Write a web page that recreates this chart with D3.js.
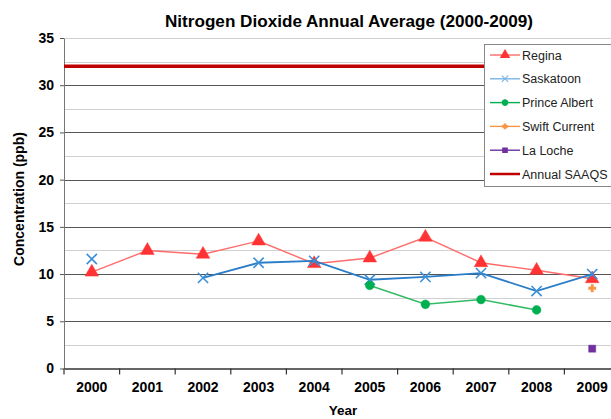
<!DOCTYPE html>
<html>
<head>
<meta charset="utf-8">
<script src="https://cdn.jsdelivr.net/npm/d3@7"></script>
<style>
  body { margin: 0; background: #fff; }
  svg { display: block; font-family: "Liberation Sans", Arial, sans-serif; }
</style>
</head>
<body>
<svg id="chart" width="611" height="419"></svg>
<script>
// data
var years = ['2000','2001','2002','2003','2004','2005','2006','2007','2008','2009'];
var regina = [10.2, 12.5, 12.1, 13.5, 11.1, 11.7, 13.9, 11.2, 10.4, 9.5];
var saskatoon = [11.6, null, 9.6, 11.2, 11.4, 9.4, 9.7, 10.1, 8.2, 10.0];
var princeAlbert = [null, null, null, null, null, 8.8, 6.8, 7.3, 6.2, null];
var swiftCurrent = [null, null, null, null, null, null, null, null, null, 8.5];
var laLoche = [null, null, null, null, null, null, null, null, null, 2.1];
var saaqs = 32;
var yTicks = [0, 5, 10, 15, 20, 25, 30, 35];

var svg = d3.select('#chart');
var plotLeft = 64, plotRight = 620, plotTop = 38, plotBottom = 368.5;
var fontStack = '"Liberation Sans", Arial, sans-serif';

var x = d3.scaleBand().domain(years).range([plotLeft, plotRight]);
var y = d3.scaleLinear().domain([0, 35]).range([plotBottom, plotTop]);

// gridlines: minor every 2.5, major every 5
var grid = svg.append('g');
d3.range(2.5, 35, 5).forEach(function(v){
  grid.append('line').attr('x1', plotLeft).attr('x2', plotRight)
    .attr('y1', Math.round(y(v)) + 0.5).attr('y2', Math.round(y(v)) + 0.5)
    .attr('stroke', '#d0d0d0').attr('stroke-width', 1);
});
yTicks.forEach(function(v){
  if (v === 0) return;
  grid.append('line').attr('x1', plotLeft).attr('x2', plotRight)
    .attr('y1', Math.round(y(v)) + 0.5).attr('y2', Math.round(y(v)) + 0.5)
    .attr('stroke', v === 35 ? '#d0d0d0' : '#555').attr('stroke-width', 1);
});

// y axis
var yAxis = svg.append('g').attr('transform', 'translate(' + plotLeft + ',0)')
  .call(d3.axisLeft(y).tickValues(yTicks).tickSize(4).tickSizeOuter(0));
yAxis.select('.domain').attr('stroke', '#777');
yAxis.selectAll('.tick line').attr('stroke', '#555');
yAxis.selectAll('.tick text').attr('font-size', 14).attr('font-weight', 'bold')
  .attr('fill', '#000').attr('x', -10).attr('font-family', fontStack);

// x axis
var xAxis = svg.append('g').attr('transform', 'translate(0,' + plotBottom + ')')
  .call(d3.axisBottom(x).tickSize(0).tickSizeOuter(0));
xAxis.select('.domain').attr('stroke', '#333').attr('stroke-width', 1.5);
xAxis.selectAll('.tick text').attr('font-size', 14).attr('font-weight', 'bold')
  .attr('fill', '#000').attr('y', 14).attr('font-family', fontStack);
years.concat(['end']).forEach(function(d, i){
  var px = i < years.length ? x(d) : plotRight;
  xAxis.append('line').attr('x1', px).attr('x2', px).attr('y1', 0).attr('y2', 6)
    .attr('stroke', '#333').attr('stroke-width', 1.2);
});

// SAAQS line
svg.append('line').attr('x1', plotLeft).attr('x2', plotRight)
  .attr('y1', y(saaqs)).attr('y2', y(saaqs))
  .attr('stroke', '#c00000').attr('stroke-width', 3.5);

var cx = function(i){ return x(years[i]) + x.bandwidth() / 2; };

var series = [
  {name: 'Regina', values: regina, line: '#ff6b6b', width: 1.4, mark: '#ff3333', symbol: d3.symbolTriangle, size: 80, fill: true},
  {name: 'Saskatoon', values: saskatoon, line: '#2a7dc8', width: 1.8, mark: '#3b8fd8', symbol: d3.symbolX, size: 70, fill: false},
  {name: 'Prince Albert', values: princeAlbert, line: '#33bb66', width: 1.6, mark: '#00b050', symbol: d3.symbolCircle, size: 60, fill: true},
  {name: 'Swift Current', values: swiftCurrent, line: '#f79646', width: 1.6, mark: '#f79646', symbol: d3.symbolCross, size: 30, fill: true},
  {name: 'La Loche', values: laLoche, line: '#7030a0', width: 1.6, mark: '#7030a0', symbol: d3.symbolSquare, size: 50, fill: true}
];

var line = d3.line()
  .defined(function(d){ return d != null; })
  .x(function(d, i){ return cx(i); })
  .y(function(d){ return y(d); });

series.forEach(function(s){
  svg.append('path').datum(s.values)
    .attr('d', line).attr('fill', 'none')
    .attr('stroke', s.line).attr('stroke-width', s.width);
  s.values.forEach(function(v, i){
    if (v == null) return;
    svg.append('path')
      .attr('d', d3.symbol(s.symbol, s.size)())
      .attr('transform', 'translate(' + cx(i) + ',' + y(v) + ')')
      .attr('fill', s.fill ? s.mark : 'none')
      .attr('stroke', s.mark).attr('stroke-width', s.fill ? 0.5 : 1.6);
  });
});

// legend
var lg = svg.append('g').attr('transform', 'translate(484,44)');
lg.append('rect').attr('x', 0.5).attr('y', 0.5).attr('width', 140).attr('height', 142)
  .attr('fill', '#fff').attr('stroke', '#888');
var legendItems = series.map(function(s){ return s; })
  .concat([{name: 'Annual SAAQS', line: '#c00000', saaqs: true}]);
var legendLine = {Regina: '#ff6b6b', Saskatoon: '#7ab4e6', 'Prince Albert': '#00b050',
  'Swift Current': '#f79646', 'La Loche': '#7030a0', 'Annual SAAQS': '#c00000'};
legendItems.forEach(function(s, i){
  var ly = 11 + i * 23.8;
  lg.append('line').attr('x1', 6).attr('x2', 36).attr('y1', ly).attr('y2', ly)
    .attr('stroke', legendLine[s.name]).attr('stroke-width', s.saaqs ? 2.5 : 1.4);
  if (!s.saaqs) {
    lg.append('path')
      .attr('d', d3.symbol(s.symbol, s.size * 0.4)())
      .attr('transform', 'translate(21,' + ly + ')')
      .attr('fill', s.fill ? s.mark : 'none')
      .attr('stroke', s.fill ? s.mark : legendLine[s.name]).attr('stroke-width', 1.1);
  }
  lg.append('text').attr('x', 38).attr('y', ly + 4.5)
    .attr('font-size', 12.5).attr('fill', '#222').text(s.name);
});

// titles
svg.append('text').attr('x', 349).attr('y', 27).attr('text-anchor', 'middle')
  .attr('font-size', 16).attr('font-weight', 'bold')
  .attr('textLength', 368).attr('lengthAdjust', 'spacingAndGlyphs')
  .text('Nitrogen Dioxide Annual Average (2000-2009)');
svg.append('text').attr('transform', 'translate(24,199) rotate(-90)')
  .attr('text-anchor', 'middle').attr('font-size', 14).attr('font-weight', 'bold')
  .text('Concentration (ppb)');
svg.append('text').attr('x', 343).attr('y', 415).attr('text-anchor', 'middle')
  .attr('font-size', 13.5).attr('font-weight', 'bold').text('Year');
</script>
</body>
</html>
